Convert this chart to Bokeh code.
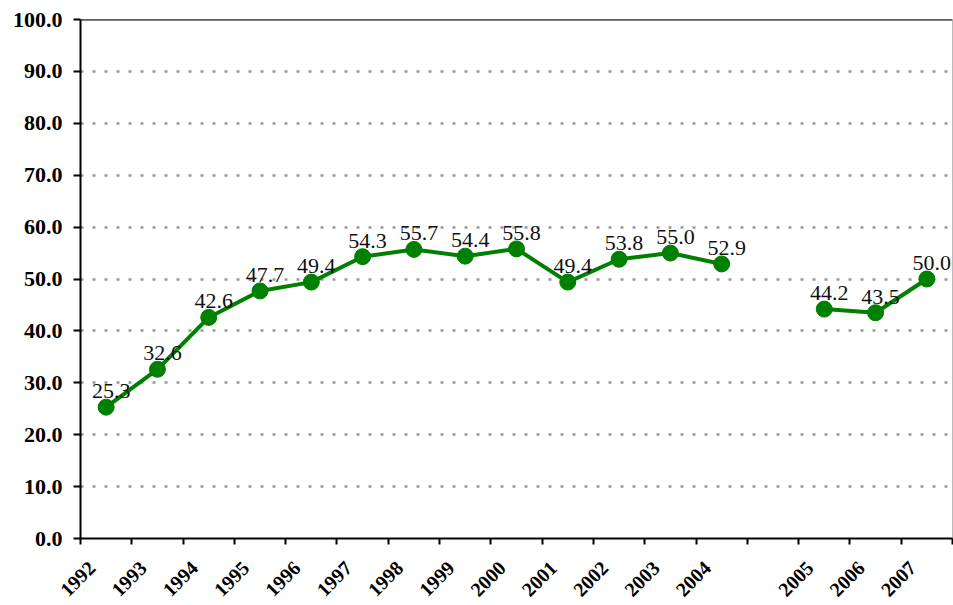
import math
from bokeh.plotting import figure
from bokeh.models import ColumnDataSource, FixedTicker, Span, LabelSet, NumeralTickFormatter
from bokeh.embed import file_html
from bokeh.resources import INLINE

# ---- data ----
slots = ["1992", "1993", "1994", "1995", "1996", "1997", "1998", "1999", "2000",
         "2001", "2002", "2003", "2004", "", "2005", "2006", "2007"]
years = ["1992", "1993", "1994", "1995", "1996", "1997", "1998", "1999", "2000",
         "2001", "2002", "2003", "2004", "2005", "2006", "2007"]
values = [25.3, 32.6, 42.6, 47.7, 49.4, 54.3, 55.7, 54.4, 55.8,
          49.4, 53.8, 55.0, 52.9, 44.2, 43.5, 50.0]
y_ticks = [0, 10, 20, 30, 40, 50, 60, 70, 80, 90, 100]

# ---- derived ----
n = len(slots)
xs_line = []
ys_line = []
for i, s in enumerate(slots):
    xs_line.append(i + 0.5)
    ys_line.append(values[years.index(s)] if s in years else float("nan"))

pt_x = [slots.index(y) + 0.5 for y in years]
src = ColumnDataSource(dict(x=pt_x, y=values, lbl=["%.1f" % v for v in values]))

p = figure(width=953, height=605, x_range=(0, n), y_range=(0, 100),
           output_backend="svg", toolbar_location=None,
           min_border_left=80, min_border_top=19, min_border_bottom=67,
           min_border_right=1)
p.background_fill_color = "white"
p.border_fill_color = "white"
p.outline_line_color = "#bbbbbb"
p.outline_line_width = 1

# grid
p.xgrid.grid_line_color = None
p.ygrid.ticker = FixedTicker(ticks=y_ticks)
p.ygrid.grid_line_color = "#999999"
p.ygrid.grid_line_width = 2.5
p.ygrid.grid_line_dash = "3 9"

# y axis
p.yaxis.ticker = FixedTicker(ticks=y_ticks)
p.yaxis.formatter = NumeralTickFormatter(format="0.0")
p.yaxis.axis_line_color = "black"
p.yaxis.axis_line_width = 2
p.yaxis.major_tick_line_color = "black"
p.yaxis.major_tick_line_width = 2
p.yaxis.major_tick_out = 7
p.yaxis.major_tick_in = 0
p.yaxis.minor_tick_line_color = None
p.yaxis.major_label_text_font = "Liberation Serif"
p.yaxis.major_label_text_font_style = "bold"
p.yaxis.major_label_text_font_size = "22px"
p.yaxis.major_label_text_color = "black"
p.yaxis.major_label_standoff = 11

# x axis: label anchors slightly left of category centres, tick marks at boundaries
centres = [i + 0.22 for i in range(n)]
bounds = [float(i) for i in range(n + 1)]
p.xaxis.ticker = FixedTicker(ticks=centres, minor_ticks=bounds)
p.xaxis.major_label_overrides = {c: s for c, s in zip(centres, slots)}
p.xaxis.major_tick_line_color = None
p.xaxis.minor_tick_line_color = "black"
p.xaxis.minor_tick_line_width = 2
p.xaxis.minor_tick_out = 6
p.xaxis.minor_tick_in = 0
p.xaxis.axis_line_color = "black"
p.xaxis.axis_line_width = 2
p.xaxis.major_label_orientation = math.pi / 4
p.xaxis.major_label_text_font = "Liberation Serif"
p.xaxis.major_label_text_font_style = "bold"
p.xaxis.major_label_text_font_size = "20px"
p.xaxis.major_label_text_color = "black"
p.xaxis.major_label_standoff = 20

# top border line
p.add_layout(Span(location=100, dimension="width", line_color="black", line_width=2))

# series
p.line(xs_line, ys_line, line_color="#008000", line_width=4)
p.scatter("x", "y", source=src, size=16, fill_color="#008000", line_color="#008000")

labels = LabelSet(x="x", y="y", text="lbl", source=src, x_offset=5, y_offset=9,
                  text_align="center", text_baseline="alphabetic",
                  text_font="Liberation Serif", text_font_size="22px",
                  text_color="#111111")
p.add_layout(labels)

open("out.html", "w").write(file_html(p, INLINE))
